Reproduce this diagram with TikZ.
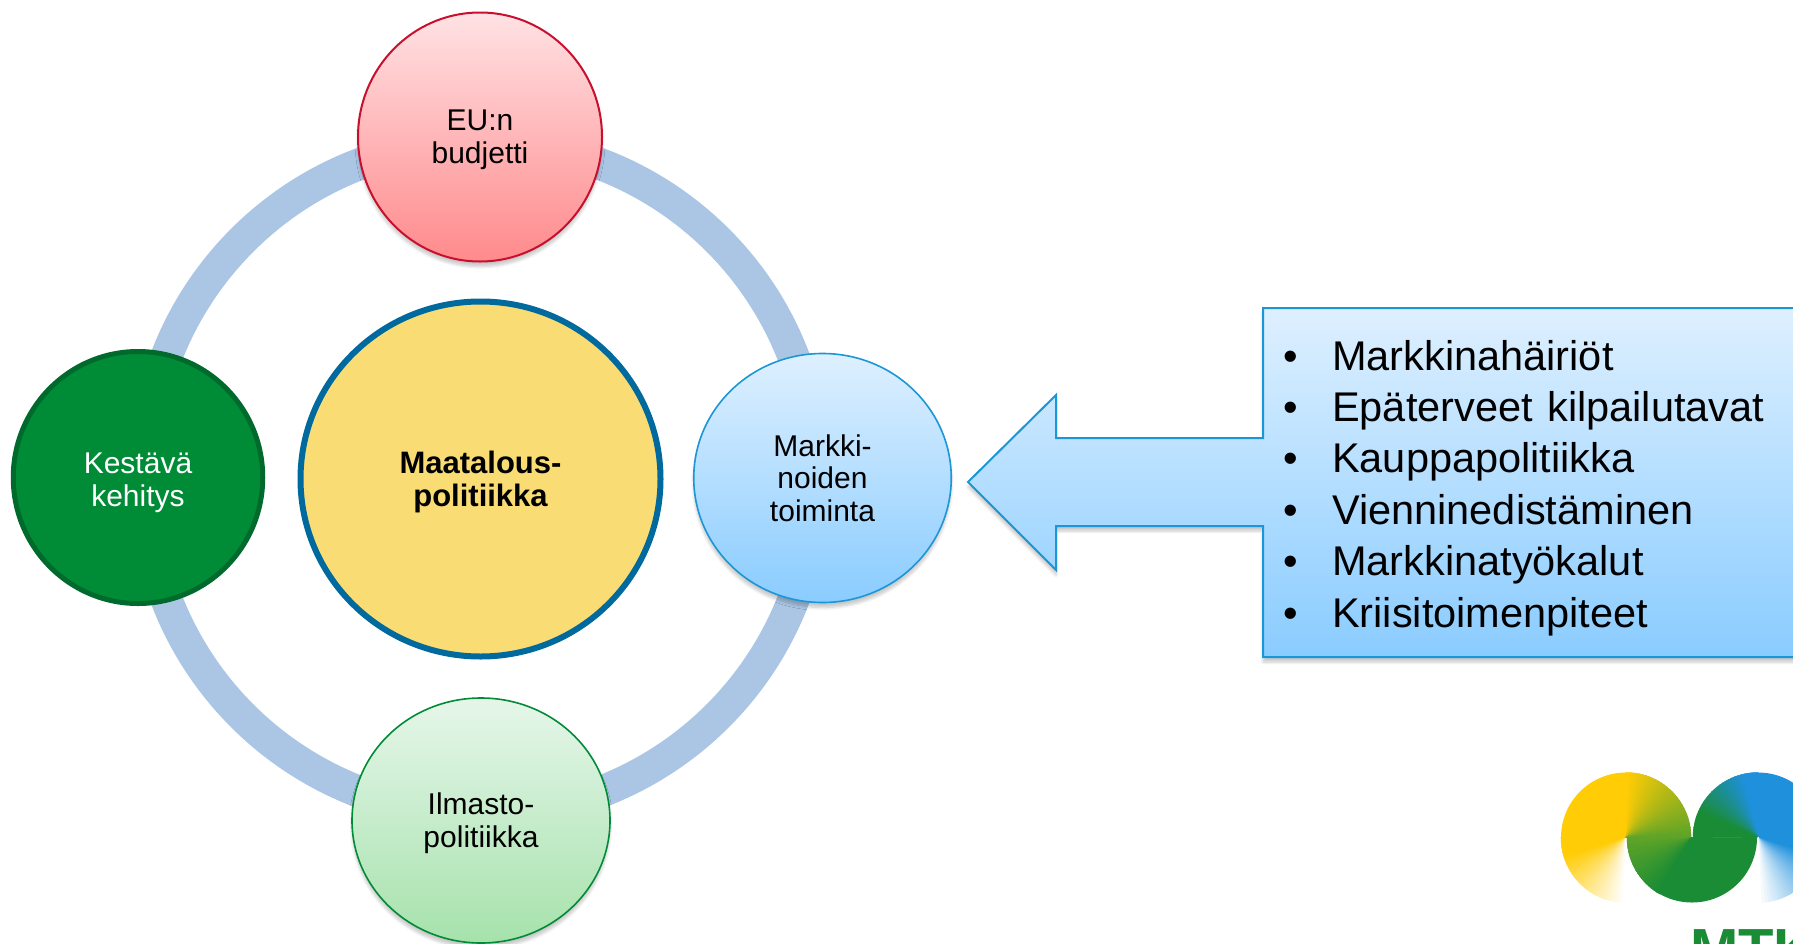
\documentclass[tikz,border=0pt]{standalone}
\usepackage{fontspec}
\setmainfont{Liberation Sans}
\usetikzlibrary{shadows.blur,shapes.geometric}
\definecolor{ringblue}{HTML}{ABC6E4}
\definecolor{boxedge}{HTML}{1B96D6}
\definecolor{logoY}{HTML}{FFCC05}
\definecolor{logoG}{HTML}{1A8C35}
\definecolor{logoL}{HTML}{5FA428}
\definecolor{logoB}{HTML}{1E90DC}
\newcommand{\lift}[1]{\rule{0pt}{#1pt}}
\tikzset{
  x=1pt,y=1pt,
  disc/.style={ellipse,inner sep=0pt,align=center,font=\fontsize{30}{32.5}\selectfont,text=black},
  softshadow/.style={blur shadow={shadow xshift=0pt,shadow yshift=-5pt,shadow blur radius=3pt,shadow blur steps=6,shadow opacity=22}},
  ringarc/.style={line width=32pt,draw=ringblue},
  listtext/.style={anchor=base west,font=\fontsize{41.5}{41.5}\selectfont,text=black,inner sep=0pt},
  bulletmark/.style={anchor=base,font=\fontsize{41.5}{41.5}\selectfont,text=black,inner sep=0pt},
  wedge/.style={line width=0.6pt},
}
\begin{document}
\begin{tikzpicture}
\useasboundingbox (0,0) rectangle (1793,-943);
\begin{scope}
\clip (0,0) rectangle (1793,-943);
% ring passes through these points, behind the circles
\coordinate (ringtop) at (480,-142);
\coordinate (ringright) at (816,-478);
\coordinate (ringbottom) at (480,-814);
\coordinate (ringleft) at (144,-478);
\draw[ringarc] (ringtop) to[out=0,in=90] (ringright);
\draw[ringarc] (ringright) to[out=-90,in=0] (ringbottom);
\draw[ringarc] (ringbottom) to[out=180,in=-90] (ringleft);
\draw[ringarc] (ringleft) to[out=90,in=180] (ringtop);
\node[disc,minimum width=244pt,minimum height=249pt,draw={rgb,255:red,200;green,16;blue,46},line width=2pt,top color={rgb,255:red,255;green,226;blue,228},bottom color={rgb,255:red,255;green,138;blue,140},softshadow] (budget) at (480,-137) {\lift{26}EU:n\\budjetti};
\node[disc,minimum width=249.5pt,minimum height=252pt,fill={rgb,255:red,0;green,140;blue,54},draw={rgb,255:red,0;green,106;blue,44},line width=5pt,text=white] (kest) at (138,-477.5) {\lift{31}Kestävä\\kehitys};
\node[disc,minimum width=360pt,minimum height=355pt,fill={rgb,255:red,250;green,220;blue,116},draw={rgb,255:red,0;green,106;blue,158},line width=6pt,font=\fontsize{31}{32.5}\selectfont\bfseries] (maa) at (480.5,-479) {\lift{28}Maatalous-\\politiikka};
\node[disc,minimum width=257.5pt,minimum height=249pt,draw=boxedge,line width=1.6pt,top color={rgb,255:red,222;green,240;blue,255},bottom color={rgb,255:red,138;green,204;blue,255},softshadow] (mark) at (822.5,-478) {\lift{22}Markki-\\noiden\\toiminta};
\node[disc,minimum width=258pt,minimum height=245pt,draw={rgb,255:red,0;green,140;blue,54},line width=1.6pt,top color={rgb,255:red,230;green,246;blue,234},bottom color={rgb,255:red,166;green,226;blue,172},softshadow] (ilma) at (481,-820.5) {\lift{27}Ilmasto-\\politiikka};
% arrow callout
\path[draw=boxedge,line width=2pt,top color={rgb,255:red,222;green,240;blue,255},bottom color={rgb,255:red,138;green,204;blue,255},softshadow]
  (1900,-308) -- (1263,-308) -- (1263,-438) -- (1056,-438) -- (1056,-395) -- (968,-482)
  -- (1056,-570) -- (1056,-526) -- (1263,-526) -- (1263,-657) -- (1900,-657) -- cycle;
\foreach \t/\yy/\n in {Markkinahäiriöt/370/a,Epäterveet\hspace{3pt} kilpailutavat/421.4/b,Kauppapolitiikka/472.8/c,Vienninedistäminen/524.2/d,Markkinatyökalut/575.6/e,Kriisitoimenpiteet/627/f}{
  \node[bulletmark] (bul\n) at (1291,-\yy) {•};
  \node[listtext] (item\n) at (1332,-\yy) {\t};
}
% logo
\foreach \i in {0,...,29}{
  \pgfmathsetmacro{\p}{max(0,min(100,(29-\i)*100/24))}
  \pgfmathsetmacro{\a}{180+\i*3}
  \pgfmathsetmacro{\b}{\a+3.3}
  \fill[logoY!\p!white,draw=logoY!\p!white,wedge] (1626,-837.5) -- ++(\a:65) arc[start angle=\a,end angle=\b,radius=65] -- cycle;
}
\fill[logoY] (1626,-837.5) -- (1561,-837.5) arc[start angle=180,end angle=90,radius=65] -- cycle;
\foreach \i in {0,...,29}{
  \pgfmathsetmacro{\p}{100-\i*100/29}
  \pgfmathsetmacro{\a}{90-\i*3}
  \pgfmathsetmacro{\b}{\a-3.3}
  \fill[logoY!\p!logoL,draw=logoY!\p!logoL,wedge] (1626,-837.5) -- ++(\a:65) arc[start angle=\a,end angle=\b,radius=65] -- cycle;
}
\foreach \i in {0,...,29}{
  \pgfmathsetmacro{\p}{max(0,min(100,(22-\i)*100/18))}
  \pgfmathsetmacro{\a}{90+\i*3}
  \pgfmathsetmacro{\b}{\a+3.3}
  \fill[logoB!\p!logoG,draw=logoB!\p!logoG,wedge] (1758,-837.5) -- ++(\a:65) arc[start angle=\a,end angle=\b,radius=65] -- cycle;
}
\fill[logoB] (1758,-837.5) -- (1758,-772.5) arc[start angle=90,end angle=0,radius=65] -- cycle;
\foreach \i in {0,...,29}{
  \pgfmathsetmacro{\p}{max(0,min(100,(29-\i)*100/24))}
  \pgfmathsetmacro{\a}{-\i*3}
  \pgfmathsetmacro{\b}{\a-3.3}
  \fill[logoB!\p!white,draw=logoB!\p!white,wedge] (1758,-837.5) -- ++(\a:65) arc[start angle=\a,end angle=\b,radius=65] -- cycle;
}
\fill[logoG] (1692,-837.5) -- (1627,-837.5) arc[start angle=180,end angle=360,radius=65] -- cycle;
\foreach \i in {0,...,19}{
  \pgfmathsetmacro{\p}{100-\i*100/19}
  \pgfmathsetmacro{\a}{180+\i*3}
  \pgfmathsetmacro{\b}{\a+3.3}
  \fill[logoL!\p!logoG,draw=logoL!\p!logoG,wedge] (1692,-837.5) -- ++(\a:65) arc[start angle=\a,end angle=\b,radius=65] -- cycle;
}
\node[anchor=base west,inner sep=0pt,text=logoG,font=\fontsize{58}{58}\selectfont\bfseries] (mtk) at (1690,-969.5) {MTK};
\end{scope}
\end{tikzpicture}
\end{document}
